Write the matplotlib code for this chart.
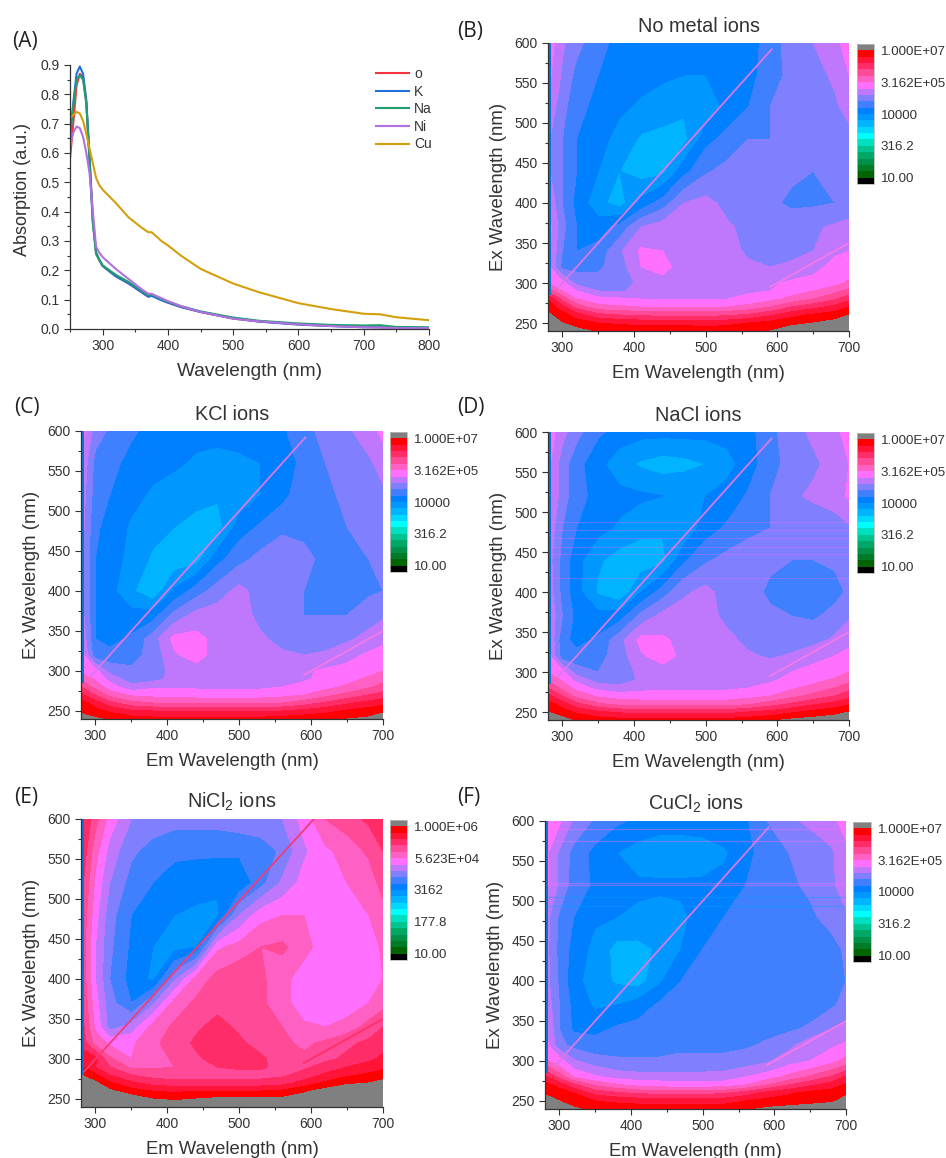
import numpy as np
import matplotlib
matplotlib.use("Agg")
import matplotlib.pyplot as plt
from matplotlib.ticker import MultipleLocator

plt.rcParams['font.family'] = ['Liberation Sans', 'DejaVu Sans']
plt.rcParams['mathtext.default'] = 'regular'

W, H = 946, 1158
ink = '#333333'

## Panel A: absorption spectra
wl = [250, 255, 260, 265, 270, 275, 280, 285, 290, 295, 300, 320, 340, 360, 370, 375,
      390, 400, 420, 450, 500, 540, 600, 650, 700, 725, 750, 800]
abs_o = [0.58, 0.70, 0.83, 0.87, 0.86, 0.77, 0.58, 0.37, 0.26, 0.235, 0.215, 0.18, 0.155, 0.125, 0.11, 0.115,
         0.10, 0.09, 0.075, 0.058, 0.036, 0.026, 0.016, 0.011, 0.007, 0.006, 0.003, 0.003]
abs_k = [0.66, 0.77, 0.87, 0.895, 0.87, 0.78, 0.58, 0.37, 0.26, 0.235, 0.215, 0.18, 0.155, 0.125, 0.11, 0.113,
         0.098, 0.09, 0.075, 0.058, 0.036, 0.025, 0.015, 0.01, 0.006, 0.006, 0.003, 0.002]
abs_na = [0.65, 0.76, 0.85, 0.865, 0.85, 0.77, 0.57, 0.36, 0.255, 0.235, 0.217, 0.185, 0.16, 0.13, 0.115, 0.118,
          0.102, 0.093, 0.078, 0.06, 0.039, 0.028, 0.019, 0.014, 0.012, 0.013, 0.007, 0.006]
abs_ni = [0.62, 0.67, 0.69, 0.685, 0.655, 0.60, 0.53, 0.40, 0.28, 0.26, 0.245, 0.205, 0.17, 0.135, 0.12, 0.12,
          0.105, 0.095, 0.078, 0.058, 0.035, 0.026, 0.016, 0.01, 0.006, 0.005, 0.003, 0.003]
abs_cu = [0.72, 0.73, 0.74, 0.735, 0.71, 0.665, 0.615, 0.565, 0.515, 0.49, 0.475, 0.43, 0.38, 0.345, 0.33, 0.33,
          0.30, 0.285, 0.25, 0.205, 0.155, 0.125, 0.088, 0.068, 0.052, 0.05, 0.04, 0.03]

## EEM maps: log10(intensity), rows follow ex_grid, columns em_grid
em_grid = [280, 300, 320, 350, 380, 410, 440, 470, 500, 530, 560, 590, 620, 650, 680, 700]
ex_grid = [240, 250, 260, 270, 280, 290, 300, 320, 340, 370, 400, 440, 480, 520, 560, 600]

z_none = [
    [7.6, 7.4, 7.1, 6.95, 6.9, 6.9, 6.9, 6.9, 6.9, 6.9, 6.95, 7.0, 7.2, 7.35, 7.45, 7.5],
    [7.4, 7.0, 6.85, 6.7, 6.65, 6.6, 6.6, 6.6, 6.55, 6.6, 6.7, 6.8, 6.9, 7.0, 7.1, 7.25],
    [7.05, 6.85, 6.55, 6.2, 6.1, 6.05, 6.0, 6.0, 6.0, 6.05, 6.15, 6.35, 6.6, 6.75, 6.85, 7.0],
    [6.9, 6.5, 6.0, 5.6, 5.55, 5.5, 5.5, 5.5, 5.5, 5.5, 5.6, 5.8, 6.1, 6.3, 6.5, 6.7],
    [6.7, 6.0, 5.5, 5.3, 5.25, 5.2, 5.2, 5.2, 5.2, 5.2, 5.3, 5.4, 5.6, 5.8, 6.05, 6.3],
    [6.0, 5.5, 5.2, 4.9, 4.85, 5.05, 5.05, 5.05, 5.05, 5.1, 5.15, 5.2, 5.35, 5.5, 5.7, 5.9],
    [5.5, 5.3, 4.8, 4.7, 4.7, 5.0, 5.1, 5.1, 5.1, 5.05, 5.05, 5.15, 5.25, 5.3, 5.4, 5.55],
    [5.3, 4.5, 4.5, 4.55, 4.75, 5.2, 5.3, 5.05, 5.05, 5.05, 4.95, 4.9, 5.0, 5.1, 5.3, 5.35],
    [5.3, 4.6, 4.3, 4.4, 4.85, 5.25, 5.2, 5.1, 5.1, 5.0, 4.85, 4.75, 4.75, 4.9, 5.15, 5.2],
    [5.35, 4.7, 4.3, 4.15, 4.4, 4.9, 5.05, 5.1, 5.1, 4.95, 4.8, 4.75, 4.75, 4.85, 4.95, 5.0],
    [5.2, 4.6, 4.2, 3.8, 3.55, 4.1, 4.45, 4.9, 5.0, 4.8, 4.75, 4.65, 4.55, 4.55, 4.6, 4.7],
    [4.95, 4.6, 4.3, 4.0, 3.7, 3.55, 3.6, 4.2, 4.55, 4.7, 4.7, 4.65, 4.65, 4.6, 4.65, 4.7],
    [4.95, 4.6, 4.3, 4.1, 3.9, 3.65, 3.6, 3.6, 4.2, 4.4, 4.6, 4.6, 4.65, 4.7, 4.75, 4.8],
    [5.15, 4.7, 4.4, 4.2, 4.05, 3.95, 3.85, 3.75, 3.75, 4.1, 4.3, 4.6, 4.7, 4.75, 4.85, 5.0],
    [5.3, 4.85, 4.5, 4.3, 4.2, 4.1, 4.05, 4.0, 4.0, 4.05, 4.2, 4.45, 4.7, 4.8, 4.95, 5.2],
    [5.4, 4.95, 4.7, 4.4, 4.2, 4.1, 4.1, 4.1, 4.1, 4.1, 4.15, 4.45, 4.75, 4.9, 5.1, 5.35],
]
z_kcl = [
    [7.1, 7.05, 6.95, 6.85, 6.8, 6.8, 6.8, 6.8, 6.8, 6.8, 6.85, 6.9, 6.95, 7.0, 7.05, 7.15],
    [6.95, 6.8, 6.65, 6.45, 6.4, 6.35, 6.35, 6.35, 6.35, 6.35, 6.4, 6.5, 6.6, 6.75, 6.85, 6.95],
    [6.85, 6.55, 6.2, 5.9, 5.8, 5.75, 5.75, 5.75, 5.75, 5.75, 5.8, 5.95, 6.15, 6.35, 6.5, 6.6],
    [6.5, 6.1, 5.7, 5.45, 5.4, 5.4, 5.35, 5.35, 5.35, 5.35, 5.4, 5.5, 5.7, 5.9, 6.1, 6.25],
    [6.1, 5.7, 5.35, 5.0, 5.15, 5.15, 5.15, 5.15, 5.15, 5.15, 5.2, 5.3, 5.4, 5.55, 5.75, 5.9],
    [5.7, 5.45, 5.1, 4.75, 4.8, 5.0, 5.05, 5.05, 5.05, 5.05, 5.1, 5.15, 5.3, 5.4, 5.55, 5.7],
    [5.45, 5.3, 4.8, 4.65, 4.75, 5.0, 5.05, 5.05, 5.05, 5.05, 5.05, 5.15, 5.25, 5.3, 5.4, 5.5],
    [5.4, 4.4, 4.4, 4.5, 4.7, 5.15, 5.35, 5.05, 5.05, 5.05, 4.95, 4.9, 4.95, 5.1, 5.25, 5.35],
    [5.2, 4.3, 4.2, 4.35, 4.75, 5.3, 5.3, 5.1, 5.05, 4.95, 4.8, 4.75, 4.75, 4.85, 5.0, 5.1],
    [5.05, 4.3, 4.15, 4.1, 4.15, 4.7, 5.0, 5.05, 5.05, 4.8, 4.7, 4.6, 4.6, 4.6, 4.75, 4.85],
    [5.0, 4.3, 4.1, 3.75, 3.45, 4.05, 4.45, 4.75, 5.0, 4.75, 4.7, 4.6, 4.5, 4.5, 4.55, 4.6],
    [5.0, 4.3, 4.15, 3.9, 3.65, 3.5, 3.55, 4.2, 4.5, 4.7, 4.75, 4.65, 4.55, 4.55, 4.6, 4.65],
    [5.05, 4.35, 4.2, 3.95, 3.8, 3.7, 3.6, 3.55, 4.15, 4.35, 4.55, 4.55, 4.55, 4.6, 4.7, 4.8],
    [5.1, 4.45, 4.3, 4.1, 3.95, 3.85, 3.8, 3.75, 3.75, 4.0, 4.2, 4.5, 4.55, 4.65, 4.75, 4.85],
    [5.2, 4.5, 4.4, 4.2, 4.1, 4.05, 3.95, 3.9, 3.95, 4.0, 4.1, 4.4, 4.6, 4.75, 4.85, 5.0],
    [5.35, 4.75, 4.55, 4.35, 4.2, 4.15, 4.1, 4.1, 4.1, 4.1, 4.25, 4.5, 4.7, 4.85, 5.05, 5.3],
]
z_nacl = [
    [7.15, 7.1, 6.95, 6.85, 6.8, 6.8, 6.8, 6.8, 6.8, 6.8, 6.85, 6.95, 7.05, 7.1, 7.15, 7.2],
    [7.0, 6.85, 6.65, 6.45, 6.35, 6.3, 6.3, 6.3, 6.3, 6.3, 6.4, 6.5, 6.65, 6.8, 6.9, 7.0],
    [6.85, 6.55, 6.2, 5.85, 5.7, 5.65, 5.65, 5.65, 5.65, 5.65, 5.75, 5.95, 6.15, 6.35, 6.5, 6.65],
    [6.5, 6.1, 5.7, 5.45, 5.35, 5.35, 5.35, 5.35, 5.35, 5.35, 5.4, 5.5, 5.7, 5.9, 6.1, 6.3],
    [6.1, 5.7, 5.4, 5.1, 5.0, 5.1, 5.15, 5.15, 5.15, 5.15, 5.2, 5.3, 5.45, 5.6, 5.8, 6.0],
    [5.75, 5.45, 5.1, 4.75, 4.75, 4.95, 5.05, 5.05, 5.05, 5.05, 5.1, 5.15, 5.3, 5.4, 5.55, 5.7],
    [5.5, 5.3, 4.75, 4.6, 4.7, 5.0, 5.05, 5.05, 5.05, 5.05, 5.05, 5.15, 5.2, 5.3, 5.35, 5.5],
    [5.35, 4.4, 4.4, 4.5, 4.75, 5.15, 5.35, 5.1, 5.05, 5.05, 4.95, 4.85, 4.95, 5.1, 5.2, 5.3],
    [5.25, 4.4, 4.2, 4.35, 4.8, 5.3, 5.25, 5.1, 5.05, 5.0, 4.8, 4.7, 4.7, 4.8, 4.95, 5.1],
    [5.2, 4.6, 4.2, 4.1, 4.15, 4.7, 5.0, 5.05, 5.05, 4.8, 4.7, 4.65, 4.6, 4.55, 4.7, 4.85],
    [5.1, 4.5, 4.1, 3.65, 3.45, 4.0, 4.45, 4.85, 5.0, 4.75, 4.7, 4.55, 4.45, 4.45, 4.5, 4.65],
    [5.05, 4.5, 4.1, 3.75, 3.55, 3.5, 3.6, 4.25, 4.55, 4.7, 4.7, 4.65, 4.6, 4.6, 4.65, 4.7],
    [5.15, 4.6, 4.3, 4.1, 3.95, 3.8, 3.75, 3.75, 4.15, 4.35, 4.55, 4.6, 4.65, 4.7, 4.75, 4.85],
    [5.3, 4.75, 4.4, 4.2, 4.1, 4.05, 4.0, 4.0, 4.0, 4.1, 4.35, 4.6, 4.85, 4.95, 5.05, 5.25],
    [5.3, 4.75, 4.4, 4.1, 3.8, 3.65, 3.55, 3.6, 3.7, 3.9, 4.15, 4.5, 4.7, 4.85, 5.0, 5.2],
    [5.4, 5.0, 4.7, 4.35, 4.2, 4.1, 4.1, 4.1, 4.1, 4.1, 4.2, 4.5, 4.8, 4.95, 5.1, 5.35],
]
z_nicl = [
    [6.6, 6.6, 6.5, 6.4, 6.3, 6.2, 6.25, 6.3, 6.3, 6.3, 6.35, 6.4, 6.4, 6.45, 6.5, 6.6],
    [6.5, 6.4, 6.3, 6.15, 6.0, 5.95, 6.0, 6.05, 6.05, 6.05, 6.05, 6.15, 6.2, 6.3, 6.4, 6.5],
    [6.4, 6.25, 6.05, 5.85, 5.75, 5.7, 5.75, 5.75, 5.75, 5.75, 5.8, 5.95, 6.1, 6.2, 6.25, 6.35],
    [6.2, 6.05, 5.8, 5.55, 5.4, 5.35, 5.35, 5.35, 5.35, 5.35, 5.4, 5.6, 5.8, 5.95, 6.0, 6.1],
    [6.0, 5.8, 5.5, 5.25, 5.15, 5.1, 5.1, 5.15, 5.15, 5.15, 5.2, 5.35, 5.55, 5.7, 5.8, 5.85],
    [5.8, 5.5, 5.25, 4.95, 4.95, 5.0, 5.1, 5.25, 5.3, 5.3, 5.15, 5.2, 5.35, 5.5, 5.6, 5.7],
    [5.6, 5.6, 5.05, 4.75, 4.85, 5.05, 5.2, 5.35, 5.35, 5.3, 5.1, 5.05, 5.2, 5.3, 5.45, 5.55],
    [5.45, 4.9, 4.7, 4.7, 4.95, 5.1, 5.3, 5.45, 5.3, 5.15, 5.05, 4.95, 5.05, 5.2, 5.3, 5.4],
    [5.4, 4.7, 4.15, 4.35, 4.85, 5.05, 5.2, 5.35, 5.2, 5.1, 5.0, 4.8, 4.75, 4.85, 5.1, 5.25],
    [5.3, 4.6, 4.1, 3.75, 4.2, 4.85, 5.05, 5.15, 5.15, 5.05, 4.85, 4.6, 4.55, 4.6, 4.75, 4.9],
    [5.25, 4.5, 4.0, 3.65, 3.45, 4.2, 4.85, 5.1, 5.2, 5.05, 4.85, 4.6, 4.55, 4.55, 4.6, 4.75],
    [5.2, 4.5, 4.05, 3.7, 3.5, 3.4, 3.5, 4.7, 4.85, 5.0, 5.05, 4.85, 4.6, 4.55, 4.6, 4.8],
    [5.25, 4.6, 4.1, 3.75, 3.6, 3.5, 3.45, 3.45, 4.25, 4.65, 4.75, 4.75, 4.7, 4.7, 4.75, 4.9],
    [5.35, 4.7, 4.25, 3.9, 3.75, 3.65, 3.6, 3.55, 3.55, 3.9, 4.3, 4.6, 4.65, 4.75, 4.85, 5.1],
    [5.5, 4.85, 4.4, 4.05, 3.9, 3.8, 3.8, 3.8, 3.8, 3.85, 4.05, 4.45, 4.7, 4.85, 5.05, 5.25],
    [5.6, 5.1, 4.65, 4.25, 4.15, 4.1, 4.1, 4.1, 4.15, 4.2, 4.25, 4.6, 5.0, 5.15, 5.3, 5.45],
]
z_cucl = [
    [7.5, 7.3, 7.05, 6.9, 6.85, 6.85, 6.85, 6.85, 6.85, 6.85, 6.95, 7.05, 7.1, 7.15, 7.2, 7.3],
    [7.2, 7.0, 6.85, 6.7, 6.65, 6.6, 6.6, 6.6, 6.6, 6.6, 6.7, 6.8, 6.85, 6.9, 6.95, 7.1],
    [6.95, 6.85, 6.7, 6.3, 6.15, 6.05, 6.0, 6.0, 6.0, 6.05, 6.25, 6.5, 6.65, 6.8, 6.85, 6.95],
    [6.8, 6.6, 6.2, 5.75, 5.55, 5.4, 5.35, 5.3, 5.3, 5.35, 5.5, 5.8, 6.1, 6.35, 6.55, 6.75],
    [6.5, 6.0, 5.5, 5.25, 5.1, 5.05, 5.05, 5.05, 5.05, 5.05, 5.2, 5.35, 5.6, 5.85, 6.15, 6.45],
    [6.0, 5.6, 5.2, 5.0, 4.85, 4.8, 4.8, 4.8, 4.8, 4.85, 4.95, 5.1, 5.3, 5.5, 5.75, 6.0],
    [5.55, 5.35, 4.95, 4.7, 4.65, 4.65, 4.65, 4.7, 4.7, 4.7, 4.75, 4.85, 5.1, 5.2, 5.4, 5.6],
    [5.35, 4.7, 4.5, 4.45, 4.45, 4.45, 4.45, 4.5, 4.5, 4.5, 4.55, 4.65, 4.8, 5.1, 5.15, 5.25],
    [5.3, 4.6, 4.25, 4.2, 4.35, 4.4, 4.45, 4.45, 4.45, 4.45, 4.45, 4.5, 4.55, 4.65, 4.9, 5.0],
    [5.15, 4.6, 4.2, 3.95, 4.0, 4.15, 4.35, 4.4, 4.4, 4.4, 4.4, 4.4, 4.4, 4.45, 4.55, 4.7],
    [5.05, 4.55, 4.1, 3.85, 3.65, 3.55, 3.95, 4.3, 4.4, 4.4, 4.4, 4.35, 4.35, 4.4, 4.45, 4.6],
    [5.05, 4.5, 4.2, 3.9, 3.6, 3.6, 3.75, 4.0, 4.3, 4.35, 4.35, 4.35, 4.35, 4.4, 4.5, 4.65],
    [5.05, 4.55, 4.3, 4.05, 4.0, 3.95, 3.9, 3.95, 4.1, 4.3, 4.35, 4.4, 4.45, 4.55, 4.7, 4.85],
    [5.3, 4.85, 4.45, 4.25, 4.1, 4.05, 4.05, 4.05, 4.05, 4.1, 4.3, 4.4, 4.55, 4.65, 4.85, 5.05],
    [5.3, 4.85, 4.5, 4.2, 4.0, 3.85, 3.8, 3.8, 3.85, 3.95, 4.2, 4.45, 4.6, 4.75, 4.85, 5.1],
    [5.45, 5.25, 4.85, 4.55, 4.35, 4.25, 4.15, 4.15, 4.15, 4.2, 4.25, 4.6, 4.85, 4.95, 5.1, 5.35],
]

# scatter ridges: first order (Em = Ex) and second order (Em = 2 Ex)
ridge1_em = [294, 592]
ridge1_ex = [294, 592]
ridge2_em = [590, 700]
ridge2_ex = [295, 350]
nicl_ridge1_em = [284, 604]
nicl_ridge1_ex = [284, 600]

# horizontal lamp streaks seen in the NaCl and CuCl2 maps
nacl_streaks = [418, 447, 456, 468, 478, 487]
cucl_streaks = [522, 520, 590, 575]
cucl_dark_streaks = [494, 505]

cbar_labels_7 = ['10.00', '316.2', '10000', '3.162E+05', '1.000E+07']
cbar_ticks_7 = [1, 2.5, 4, 5.5, 7]
cbar_labels_6 = ['10.00', '177.8', '3162', '5.623E+04', '1.000E+06']
cbar_ticks_6 = [1, 2.25, 3.5, 4.75, 6]

# one colour per band, under colour first, over colour last
band_colors = ['#000000', '#006400', '#007c28', '#009048', '#00a868', '#00c490', '#00e0c0',
               '#00ffff', '#00d8ff', '#00b4ff', '#0098ff', '#0080ff', '#4080ff',
               '#8080ff', '#bf78fb', '#ff70ff', '#ff60c4', '#ff4a98', '#ff2c68', '#ff1438',
               '#ff0000', '#808080']


def axPx(x0, y0, x1, y1):
    return [x0/W, 1 - y1/H, (x1-x0)/W, (y1-y0)/H]


def styleAxis(ax, size=10):
    ax.spines['top'].set_visible(False)
    ax.spines['right'].set_visible(False)
    for s in ['left', 'bottom']:
        ax.spines[s].set_color(ink)
        ax.spines[s].set_linewidth(0.9)
    ax.tick_params(which='major', length=4, width=0.8, color=ink, labelcolor=ink, labelsize=size, pad=3.5)
    ax.tick_params(which='minor', length=2.2, width=0.8, color=ink)


def plotMap(box, cbox, z, title, top=7.0, ticks=cbar_ticks_7, labels=cbar_labels_7,
            r1=(ridge1_em, ridge1_ex), rcol='#d878ea', r2col='#f878e8', strip_ymin=285):
    ax = fig.add_axes(axPx(*box))
    levels = np.linspace(1, top, 21)
    cs = ax.contourf(em_grid, ex_grid, z, levels=levels, colors=band_colors, extend='both')
    ax.axvspan(280, 284, ymin=(strip_ymin-240)/360, ymax=1, color='#0a74d8', lw=0)
    ax.plot(r1[0], r1[1], color=rcol, lw=1.3)
    ax.plot(ridge2_em, ridge2_ex, color=r2col, lw=1.2)
    ax.set_xlim(280, 700)
    ax.set_ylim(240, 600)
    ax.xaxis.set_major_locator(MultipleLocator(100))
    ax.xaxis.set_minor_locator(MultipleLocator(50))
    ax.yaxis.set_major_locator(MultipleLocator(50))
    ax.yaxis.set_minor_locator(MultipleLocator(25))
    styleAxis(ax)
    ax.set_xlabel('Em Wavelength (nm)', fontsize=13.3, color=ink, labelpad=7)
    ax.set_ylabel('Ex Wavelength (nm)', fontsize=13.4, color=ink, labelpad=5)
    ax.set_title(title, fontsize=14.3, color=ink, pad=8)

    cax = fig.add_axes(axPx(*cbox))
    cb = fig.colorbar(cs, cax=cax, extend='both', extendrect=True, extendfrac=0.05,
                      ticks=ticks, drawedges=False)
    cb.set_ticklabels(labels)
    cb.ax.tick_params(which='both', length=0, labelsize=9.6, labelcolor=ink, pad=5)
    cb.ax.minorticks_off()
    cb.outline.set_edgecolor('#bbbbbb')
    cb.outline.set_linewidth(0.6)
    return ax


fig = plt.figure(figsize=(W/100, H/100), dpi=100)

### PART 1: absorption curves ###
axa = fig.add_axes(axPx(70, 65, 429, 329))
axa.plot(wl, abs_o, color='#f5333f', lw=1.5, label='o')
axa.plot(wl, abs_k, color='#1f6fdc', lw=1.5, label='K')
axa.plot(wl, abs_na, color='#1f9e6e', lw=1.5, label='Na')
axa.plot(wl, abs_ni, color='#b26fe0', lw=1.5, label='Ni')
axa.plot(wl, abs_cu, color='#d49f0c', lw=1.5, label='Cu')
axa.set_xlim(250, 800)
axa.set_ylim(0, 0.9)
axa.xaxis.set_major_locator(MultipleLocator(100))
axa.xaxis.set_minor_locator(MultipleLocator(50))
axa.yaxis.set_major_locator(MultipleLocator(0.1))
axa.yaxis.set_minor_locator(MultipleLocator(0.05))
styleAxis(axa)
axa.set_xlabel('Wavelength (nm)', fontsize=13.8, color=ink, labelpad=7)
axa.set_ylabel('Absorption (a.u.)', fontsize=13, color=ink)
axa.yaxis.set_label_coords(-0.108, 0.53)
axa.legend(loc='upper left', bbox_to_anchor=(0.848, 0.998), frameon=False, fontsize=10, labelcolor=ink,
           handlelength=2.4, handletextpad=0.35, labelspacing=0.26, borderpad=0.1, borderaxespad=0)

### PART 2: EEM maps ###
plotMap((548, 43, 849, 331), (857, 44, 874, 184), z_none, 'No metal ions')
plotMap((81, 431, 383, 719), (390, 432, 407, 572), z_kcl, 'KCl ions')
axd = plotMap((548, 432, 849, 720), (857, 433, 874, 573), z_nacl, 'NaCl ions')
plotMap((81, 819, 383, 1107), (390, 820, 407, 960), z_nicl, 'NiCl$_2$ ions', top=6.0,
        ticks=cbar_ticks_6, labels=cbar_labels_6, r1=(nicl_ridge1_em, nicl_ridge1_ex),
        rcol='#f03c78', r2col='#ff2c68', strip_ymin=280)
axf = plotMap((545, 821, 846, 1109), (853, 822, 871, 962), z_cucl, 'CuCl$_2$ ions')

axd.hlines(nacl_streaks, 284, 700, color='#ff70ff', lw=0.8, alpha=0.3)
axf.hlines(cucl_streaks, 284, 700, color='#ff70ff', lw=0.9, alpha=0.4)
axf.hlines(cucl_dark_streaks, 284, 700, color='#00a0ff', lw=0.9, alpha=0.4)

panel_letters = ['(A)', '(B)', '(C)', '(D)', '(E)', '(F)']
letter_x = [12, 457, 14, 457, 14, 457]
letter_y = [41, 31, 408, 408, 797, 797]
for s, lx, ly in zip(panel_letters, letter_x, letter_y):
    fig.text(lx/W, 1 - ly/H, s, fontsize=15, color='#222222', family=['Open Sans', 'DejaVu Sans'], va='center')

fig.savefig('out.png', dpi=100)
